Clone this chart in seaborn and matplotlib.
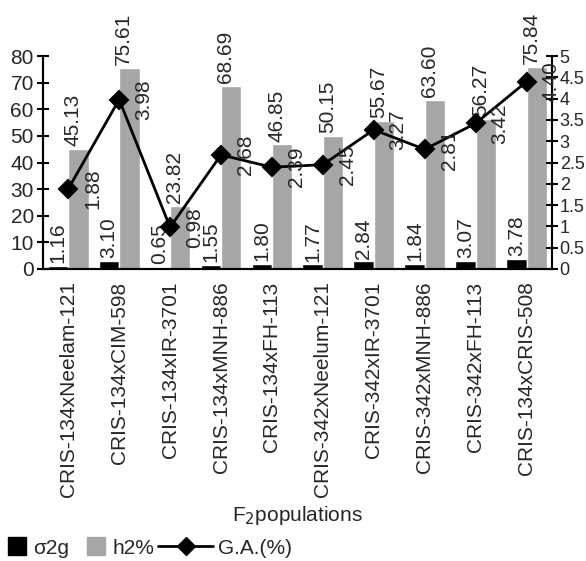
import numpy as np
import pandas as pd
import matplotlib.pyplot as plt
import seaborn as sns
from matplotlib.lines import Line2D

populations = ['CRIS-134xNeelam-121', 'CRIS-134xCIM-598', 'CRIS-134xIR-3701',
               'CRIS-134xMNH-886', 'CRIS-134xFH-113', 'CRIS-342xNeelum-121',
               'CRIS-342xIR-3701', 'CRIS-342xMNH-886', 'CRIS-342xFH-113',
               'CRIS-134xCRIS-508']
sigma2g = [1.16, 3.10, 0.65, 1.55, 1.80, 1.77, 2.84, 1.84, 3.07, 3.78]
h2 = [45.13, 75.61, 23.82, 68.69, 46.85, 50.15, 55.67, 63.60, 56.27, 75.84]
ga = [1.88, 3.98, 0.98, 2.68, 2.39, 2.45, 3.27, 2.81, 3.42, 4.40]

sns.set_theme(style='white')
plt.rcParams['font.family'] = ['Liberation Sans', 'DejaVu Sans']
plt.rcParams['font.size'] = 15

df = pd.DataFrame({'pop': populations * 2,
                   'value': sigma2g + h2,
                   'metric': ['σ2g'] * len(populations) + ['h2%'] * len(populations)})

fig = plt.figure(figsize=(5.86, 5.61), dpi=100)
ax = fig.add_axes([0.073, 0.5205, 0.869, 0.3795])

sns.barplot(data=df, x='pop', y='value', hue='metric', hue_order=['σ2g', 'h2%'],
            palette={'σ2g': 'black', 'h2%': '#a6a6a6'}, width=0.8, legend=False,
            ax=ax, saturation=1)
for k, cont in enumerate(ax.containers):
    labels = ax.bar_label(cont, fmt='%.2f', rotation=90, padding=2, fontsize=15, clip_on=False)
    if k == 1:
        # grey labels sit a little left of the bar centre
        for t in labels:
            t.xyann = (-4, 2)

# G.A. on the secondary axis
ax2 = ax.twinx()
sns.pointplot(x=populations, y=ga, ax=ax2, color='black', markers='D',
              markersize=9, linewidth=2, errorbar=None)
for i, v in enumerate(ga):
    ax2.annotate(f'{v:.2f}', (i, v), xytext=(17.5, 0), textcoords='offset points',
                 rotation=90, ha='center', va='center', fontsize=15)

n = len(populations)
ax.set_xlim(-0.5, n - 0.5)
ax.set_ylim(0, 80)
ax.set_yticks(np.arange(0, 81, 10))
ax2.set_ylim(0, 5)
ax2.set_yticks(np.arange(0, 5.01, 0.5))
ax2.set_yticklabels([f'{t:g}' for t in np.arange(0, 5.01, 0.5)], fontsize=13)

ax.set_xticks(range(n))
ax.set_xticklabels(populations, rotation=90, fontsize=15)
ax.set_xticks(np.arange(-0.5, n, 1), minor=True)
ax.tick_params(axis='x', which='major', length=0, pad=9)
ax.tick_params(axis='x', which='minor', length=9, width=1.5, direction='inout', color='black')
ax.tick_params(axis='y', length=9, width=1.5, direction='inout', color='black', labelsize=15, pad=2)
ax2.tick_params(axis='y', length=9, width=1.5, direction='inout', color='black', pad=1)

ax.set_xlabel('F$_2$populations', fontsize=15, labelpad=5)
ax.set_ylabel('')
ax2.set_ylabel('')

for a in (ax, ax2):
    a.spines['top'].set_visible(False)
    for s in ('left', 'right', 'bottom'):
        a.spines[s].set_linewidth(1.5)
        a.spines[s].set_color('black')
ax.spines['right'].set_visible(False)

sq = [Line2D([], [], marker='s', color='black', ls='none', markersize=13),
      Line2D([], [], marker='s', color='#a6a6a6', ls='none', markersize=13)]
fig.legend(sq, ['σ2g', 'h2%'], loc='center left', bbox_to_anchor=(0.011, 0.023),
           ncol=2, frameon=False, fontsize=15, borderpad=0, borderaxespad=0,
           handlelength=1.0, handletextpad=0.27, columnspacing=0.8)
ln = [Line2D([], [], marker='D', color='black', lw=2, markersize=9)]
fig.legend(ln, ['G.A.(%)'], loc='center left', bbox_to_anchor=(0.27, 0.023),
           frameon=False, fontsize=15, borderpad=0, borderaxespad=0,
           handlelength=2.64, handletextpad=0.24)

fig.savefig('out.png', dpi=100)
